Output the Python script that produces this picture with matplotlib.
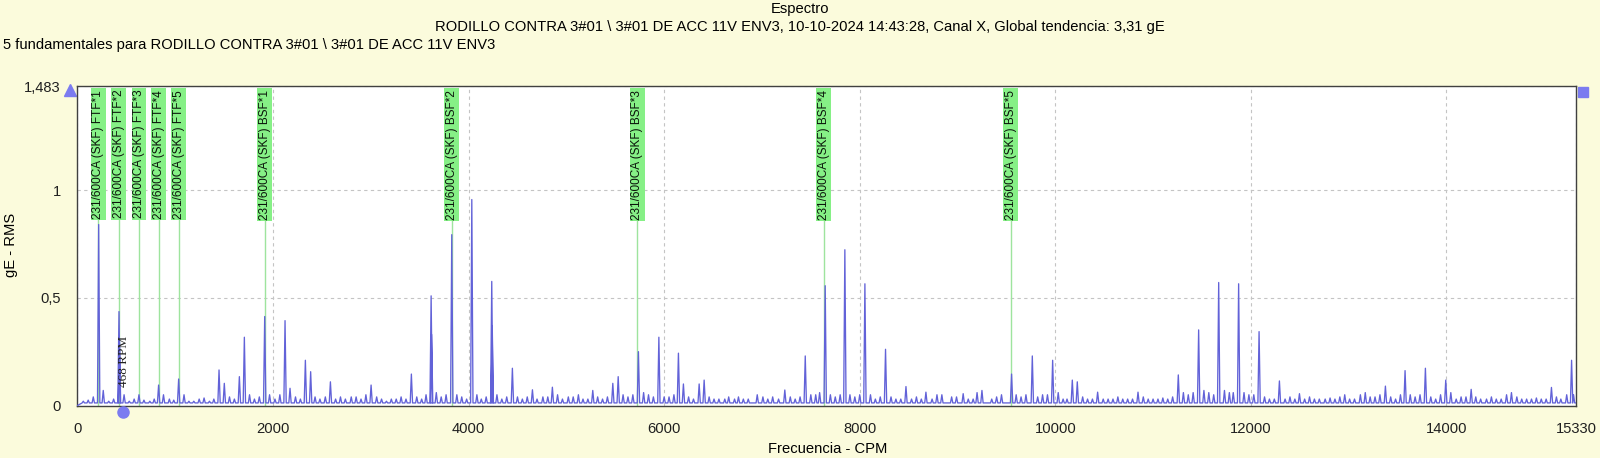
import numpy as np
import matplotlib.pyplot as plt
from matplotlib.transforms import blended_transform_factory

plt.rcParams['font.family'] = ['Liberation Sans', 'DejaVu Sans']

# main peaks (CPM, gE RMS)
peak_cpm = [217, 425, 430, 629, 830, 1035, 1448, 1502, 1656, 1707, 1915, 2123, 2174,
            2331, 2385, 2587, 3003, 3415, 3617, 3622, 3828, 4033, 4237, 4242, 4448,
            4653, 4857, 5270, 5475, 5530, 5737, 5946, 6146, 6197, 6358, 6409, 7234,
            7443, 7647, 7848, 8053, 8264, 8473, 8677, 9553, 9765, 9973, 10174, 10225,
            10433, 10846, 11258, 11466, 11671, 11875, 12084, 12292, 12497, 13376,
            13577, 13785, 13993, 14253, 14665, 15074, 15280]
peak_ge = [0.84, 0.436, 0.31, 0.05, 0.095, 0.123, 0.165, 0.103, 0.134, 0.317, 0.413, 0.394, 0.08,
           0.21, 0.157, 0.11, 0.095, 0.146, 0.509, 0.33, 0.793, 0.956, 0.576, 0.37, 0.173,
           0.073, 0.085, 0.07, 0.103, 0.134, 0.25, 0.317, 0.243, 0.1, 0.1, 0.118, 0.072,
           0.23, 0.556, 0.723, 0.565, 0.261, 0.088, 0.062, 0.146, 0.23, 0.21, 0.118, 0.11,
           0.062, 0.062, 0.142, 0.351, 0.571, 0.565, 0.343, 0.114, 0.055, 0.09,
           0.162, 0.173, 0.118, 0.075, 0.06, 0.084, 0.21]

# small peaks of the noise floor
small_cpm = [60, 110, 162, 264, 320, 370, 477, 530, 580, 680, 740, 785, 880, 940, 985, 1090,
             1140, 1190, 1245, 1295, 1350, 1395, 1555, 1605, 1760, 1810, 1860, 1965,
             2020, 2070, 2230, 2280, 2430, 2480, 2535, 2640, 2690, 2740, 2800, 2850, 2900,
             2950, 3060, 3110, 3160, 3210, 3260, 3310, 3360, 3470, 3520, 3565, 3670, 3720,
             3770, 3880, 3930, 3980, 4085, 4130, 4180, 4290, 4340, 4390, 4500, 4550, 4600,
             4700, 4760, 4810, 4910, 4960, 5020, 5070, 5123, 5170, 5220, 5320, 5370, 5420,
             5580, 5630, 5680, 5790, 5840, 5890, 6000, 6050, 6100, 6250, 6300, 6460, 6510,
             6560, 6620, 6660, 6720, 6760, 6810, 6860, 6952, 7010, 7060, 7110, 7170, 7290,
             7340, 7390, 7500, 7550, 7590, 7700, 7750, 7800, 7900, 7950, 8000, 8110, 8160,
             8210, 8320, 8370, 8420, 8530, 8580, 8630, 8740, 8790, 8840, 8940, 8990, 9058,
             9110, 9160, 9200, 9250, 9350, 9400, 9450, 9600, 9650, 9700, 9820, 9870, 9920,
             10030, 10080, 10120, 10280, 10330, 10380, 10490, 10540, 10590, 10640, 10690,
             10740, 10790, 10900, 10950, 11000, 11050, 11100, 11150, 11200, 11310, 11360,
             11410, 11520, 11570, 11620, 11730, 11780, 11820, 11930, 11980, 12030, 12140,
             12190, 12240, 12350, 12400, 12450, 12550, 12600, 12650, 12700, 12760, 12810,
             12860, 12910, 12960, 13010, 13060, 13120, 13170, 13220, 13270, 13320, 13430,
             13480, 13530, 13630, 13680, 13730, 13840, 13890, 13940, 14045, 14100, 14150,
             14200, 14300, 14350, 14410, 14460, 14510, 14560, 14615, 14720, 14770, 14820,
             14870, 14920, 14970, 15020, 15125, 15170, 15230, 15300]
small_ge = [0.02, 0.025, 0.04, 0.07, 0.02, 0.03, 0.05, 0.02, 0.03, 0.025, 0.02, 0.03, 0.05, 0.03, 0.025, 0.05,
            0.02, 0.02, 0.03, 0.035, 0.02, 0.03, 0.04, 0.03, 0.05, 0.03, 0.04, 0.05,
            0.03, 0.05, 0.04, 0.03, 0.04, 0.03, 0.04, 0.03, 0.04, 0.03, 0.04, 0.04, 0.03,
            0.05, 0.04, 0.03, 0.02, 0.03, 0.03, 0.04, 0.03, 0.04, 0.03, 0.05, 0.06, 0.04,
            0.05, 0.05, 0.04, 0.03, 0.05, 0.03, 0.04, 0.05, 0.03, 0.04, 0.04, 0.03, 0.04,
            0.03, 0.04, 0.04, 0.05, 0.03, 0.04, 0.04, 0.05, 0.03, 0.03, 0.04, 0.03, 0.04,
            0.05, 0.04, 0.05, 0.06, 0.05, 0.04, 0.04, 0.04, 0.05, 0.04, 0.03, 0.04, 0.03,
            0.03, 0.03, 0.04, 0.03, 0.04, 0.03, 0.03, 0.05, 0.04, 0.03, 0.04, 0.03, 0.04,
            0.03, 0.04, 0.05, 0.05, 0.06, 0.05, 0.04, 0.05, 0.05, 0.04, 0.05, 0.05, 0.03,
            0.04, 0.04, 0.03, 0.03, 0.03, 0.04, 0.03, 0.03, 0.05, 0.05, 0.04, 0.04, 0.055,
            0.03, 0.03, 0.06, 0.07, 0.03, 0.04, 0.05, 0.05, 0.04, 0.05, 0.04, 0.05, 0.05,
            0.06, 0.03, 0.03, 0.04, 0.03, 0.03, 0.03, 0.03, 0.03, 0.04, 0.03,
            0.03, 0.03, 0.04, 0.03, 0.03, 0.03, 0.035, 0.03, 0.04, 0.06, 0.05,
            0.06, 0.07, 0.06, 0.05, 0.07, 0.06, 0.06, 0.06, 0.05, 0.05, 0.04,
            0.03, 0.03, 0.03, 0.04, 0.03, 0.03, 0.04, 0.03, 0.03, 0.03, 0.035,
            0.03, 0.04, 0.05, 0.03, 0.03, 0.05, 0.06, 0.04, 0.04, 0.05, 0.04,
            0.03, 0.05, 0.05, 0.04, 0.05, 0.04, 0.03, 0.05, 0.06, 0.03, 0.04,
            0.04, 0.04, 0.03, 0.03, 0.04, 0.03, 0.03, 0.05, 0.04, 0.03, 0.03,
            0.03, 0.035, 0.03, 0.03, 0.04, 0.03, 0.05, 0.05]

floor_ge = 0.012
f_max = 15330
y_max = 1.483

# bearing fault frequency markers
ftf_cpm = [215, 424, 629, 830, 1035]
ftf_labels = ['231/600CA (SKF) FTF*%d' % i for i in range(1, 6)]
bsf_cpm = [1915, 3828, 5727, 7630, 9543]
bsf_labels = ['231/600CA (SKF) BSF*%d' % i for i in range(1, 6)]
rpm = 468

xticks = [0, 2000, 4000, 6000, 8000, 10000, 12000, 14000, 15330]
yticks = [0, 0.5, 1, 1.483]
ytick_labels = ['0', '0,5', '1', '1,483']

# build the spectrum line from the peak list
all_f = np.array(peak_cpm + small_cpm, dtype=float)
all_a = np.array(peak_ge + small_ge, dtype=float)
order = np.argsort(all_f)
all_f, all_a = all_f[order], all_a[order]
w = 12
xs = [0.0]
ys = [0.0]
for f, a in zip(all_f, all_a):
    xs += [f - w, f, f + w]
    ys += [floor_ge, a, floor_ge]
xs.append(f_max)
ys.append(floor_ge)

fs = 10.6
bg = '#fbfbdc'
fig = plt.figure(figsize=(16, 4.58), dpi=100, facecolor=bg)
ax = fig.add_axes([0.0484, 0.1146, 0.9369, 0.6976])
ax.set_facecolor('white')

# marker lines and labels
green_line = '#9ee49e'
green_box = '#86f086'
for f, lab in zip(ftf_cpm + bsf_cpm, ftf_labels + bsf_labels):
    ax.plot([f, f], [0, 0.87], color=green_line, lw=1, zorder=2)
    ax.text(f, 0.988, lab, rotation=90, ha='center', va='top', fontsize=8.5,
            color='#0a140a', transform=blended_transform_factory(ax.transData, ax.transAxes),
            bbox=dict(boxstyle='square,pad=0.12', fc=green_box, ec='none'), zorder=4)

ax.plot(xs, ys, color='#6262d8', lw=0.95, zorder=3)

ax.set_xlim(0, f_max)
ax.set_ylim(0, y_max)
ax.set_xticks(xticks)
ax.set_yticks(yticks)
ax.set_yticklabels(ytick_labels)
ax.tick_params(axis='x', length=0, pad=12, labelsize=fs, colors='#202020')
ax.tick_params(axis='y', length=0, pad=12, labelsize=fs, colors='#202020')
ax.grid(True, color='#c4c4c4', linestyle=(0, (3, 3)), lw=0.8, zorder=1)
for s in ax.spines.values():
    s.set_color('#404040')
    s.set_linewidth(1)

# rpm marker
trans = blended_transform_factory(ax.transData, ax.transAxes)
ax.plot([rpm], [-0.019], 'o', color='#7b7bf0', ms=8, transform=trans, clip_on=False, zorder=5)
ax.text(rpm + 10, 0.086, '%d RPM' % rpm, rotation=90, ha='center', va='bottom',
        fontsize=9.5, family='Liberation Serif', color='#202020', zorder=5)

# cursor markers
ax.plot([-0.005], [0.987], '^', color='#7b7bf0', ms=8, transform=ax.transAxes, clip_on=False)
ax.plot([1.0043], [0.981], 's', color='#7b7bf0', ms=6.5, transform=ax.transAxes, clip_on=False)

fig.text(0.5, 0.980, 'Espectro', ha='center', va='center', fontsize=fs)
fig.text(0.5, 0.941, 'RODILLO CONTRA 3#01 \\ 3#01 DE ACC 11V ENV3, 10-10-2024 14:43:28, Canal X, '
         'Global tendencia: 3,31 gE', ha='center', va='center', fontsize=fs)
fig.text(0.002, 0.902, '5 fundamentales para RODILLO CONTRA 3#01 \\ 3#01 DE ACC 11V ENV3',
         ha='left', va='center', fontsize=fs)
fig.text(0.517, 0.020, 'Frecuencia - CPM', ha='center', va='center', fontsize=fs)
fig.text(0.007, 0.465, 'gE - RMS', ha='center', va='center', rotation=90, fontsize=fs)

fig.savefig('out.png', dpi=100, facecolor=bg)
